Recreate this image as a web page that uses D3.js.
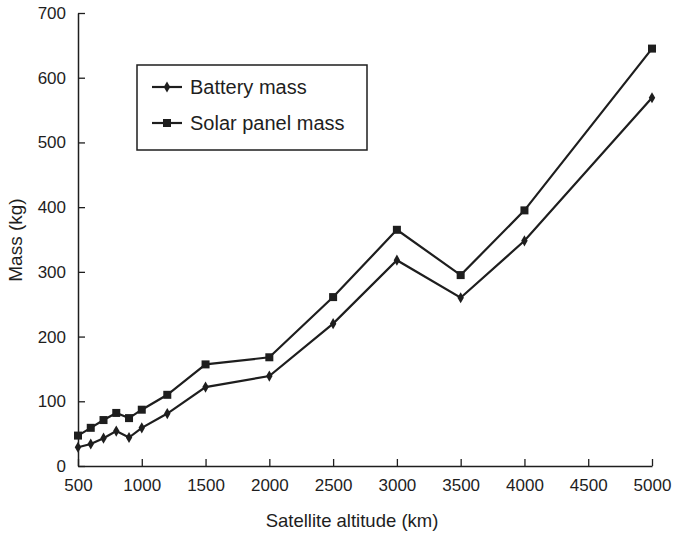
<!DOCTYPE html>
<html><head><meta charset="utf-8">
<script src="https://cdn.jsdelivr.net/npm/d3@7"></script>
<style>
html,body{margin:0;padding:0;background:#fff;}
svg{display:block;font-family:"Liberation Sans",Arial,Helvetica,sans-serif;}
</style></head>
<body>
<svg id="chart" width="674" height="535"></svg>
<script>
const altitudes = [500,600,700,800,900,1000,1200,1500,2000,2500,3000,3500,4000,5000];
const batteryMass = [29,34,43,54,44,59,81,122,139,220,318,260,348,569];
const solarPanelMass = [47,59,71,82,74,87,110,157,168,261,365,295,395,645];
const xTicks = [500,1000,1500,2000,2500,3000,3500,4000,4500,5000];
const yTicks = [0,100,200,300,400,500,600,700];
const seriesNames = ["Battery mass","Solar panel mass"];

const svg = d3.select("#chart");
const ink = "#1e1e1e";
const x = d3.scaleLinear().domain([500,5000]).range([78,652]);
const y = d3.scaleLinear().domain([0,700]).range([466,13]);

// axes (ticks inward)
const xAxis = d3.axisBottom(x).tickValues(xTicks).tickSizeInner(-7).tickSizeOuter(0).tickPadding(13).tickFormat(d3.format("d"));
const yAxis = d3.axisLeft(y).tickValues(yTicks).tickSizeInner(-7).tickSizeOuter(0).tickPadding(12).tickFormat(d3.format("d"));

const gx = svg.append("g").attr("transform","translate(0,466)").call(xAxis);
const gy = svg.append("g").attr("transform","translate(78,0)").call(yAxis);
[gx,gy].forEach(g=>{
  g.selectAll("path.domain").attr("stroke",ink).attr("stroke-width",1.5);
  g.selectAll(".tick line").attr("stroke",ink).attr("stroke-width",1.3);
  g.selectAll(".tick text").attr("fill",ink).attr("font-size",17).attr("font-family","Liberation Sans, Arial, sans-serif");
});

// axis titles
svg.append("text").attr("x",352).attr("y",527).attr("text-anchor","middle")
  .attr("font-size",18.5).attr("fill",ink).text("Satellite altitude (km)");
svg.append("text").attr("transform","translate(22,240) rotate(-90)").attr("text-anchor","middle")
  .attr("font-size",19).attr("fill",ink).text("Mass (kg)");

const line = d3.line().x(d=>x(d[0])).y(d=>y(d[1]));
const bData = altitudes.map((a,i)=>[a,batteryMass[i]]);
const sData = altitudes.map((a,i)=>[a,solarPanelMass[i]]);

svg.append("path").datum(sData).attr("d",line).attr("fill","none").attr("stroke",ink).attr("stroke-width",2.2);
svg.append("path").datum(bData).attr("d",line).attr("fill","none").attr("stroke",ink).attr("stroke-width",2.2);

const sq = 8;
svg.append("g").selectAll("rect").data(sData).join("rect")
  .attr("x",d=>x(d[0])-sq/2).attr("y",d=>y(d[1])-sq/2).attr("width",sq).attr("height",sq).attr("fill",ink);
const diamond = d3.symbol().type(d3.symbolDiamond).size(36);
svg.append("g").selectAll("path").data(bData).join("path")
  .attr("transform",d=>`translate(${x(d[0])},${y(d[1])})`).attr("d",diamond).attr("fill",ink);

// legend
const lg = svg.append("g");
lg.append("rect").attr("x",137).attr("y",65).attr("width",230).attr("height",85)
  .attr("fill","#fff").attr("stroke",ink).attr("stroke-width",1.5);
const rows = [87,123];
rows.forEach((ry,i)=>{
  lg.append("line").attr("x1",152).attr("x2",182).attr("y1",ry).attr("y2",ry).attr("stroke",ink).attr("stroke-width",2.2);
  if(i===0){
    lg.append("path").attr("transform",`translate(167,${ry})`).attr("d",diamond).attr("fill",ink);
  } else {
    lg.append("rect").attr("x",167-sq/2).attr("y",ry-sq/2).attr("width",sq).attr("height",sq).attr("fill",ink);
  }
  lg.append("text").attr("x",190).attr("y",ry+7).attr("font-size",20).attr("fill",ink).text(seriesNames[i]);
});
</script>
</body></html>
